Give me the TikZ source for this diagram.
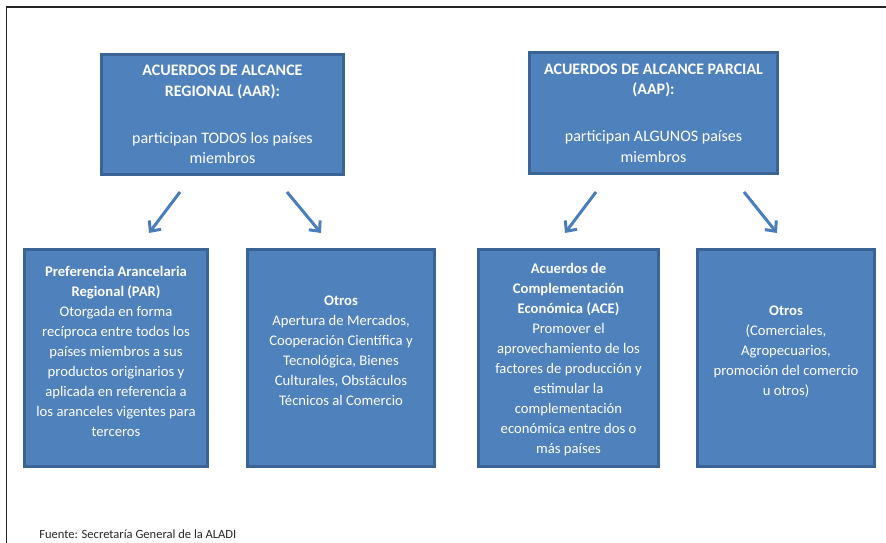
\documentclass[tikz,border=0pt]{standalone}
\usepackage{fontspec}
\setmainfont{Carlito}
\usetikzlibrary{arrows.meta}
\definecolor{boxblue}{HTML}{4F81BD}
\definecolor{boxedge}{HTML}{3B6496}
\definecolor{arrowblue}{HTML}{4A7EBB}
\tikzset{
  topbox/.style={draw=boxedge,fill=boxblue,line width=2.25pt,text=white,align=center,inner sep=0pt,font=\fontsize{11}{15}\selectfont},
  headbox/.style={topbox,font=\fontsize{12}{15.5}\selectfont},
  pointer/.style={arrowblue,line width=2.25pt,-{Straight Barb[length=6pt,width=11pt]}}
}
\newcommand{\lowtext}[3]{\parbox[c][163pt][t]{#1}{\centering\vspace*{#2}#3}}
\begin{document}
\begin{tikzpicture}[x=0.75pt,y=-0.75pt]
		\useasboundingbox (0,0) rectangle (886,543);
		\draw[black!85,line width=1pt] (6.5,543) -- (6.5,7) -- (886,7);
		\node[headbox,minimum width=181.5pt,minimum height=90pt] (aar) at (222.5,114.5)
		{\textbf{ACUERDOS DE ALCANCE}\\\textbf{REGIONAL (AAR):}\\[19.75pt]participan TODOS los países\\miembros};
		\node[headbox,minimum width=186pt,minimum height=90.75pt] (aap) at (653.5,113)
		{\textbf{ACUERDOS DE ALCANCE PARCIAL}\\\textbf{(AAP):}\\[19.75pt]participan ALGUNOS países\\miembros};
		\node[topbox] (par) at (116,358) {\lowtext{137.25pt}{12.5pt}{\textbf{Preferencia Arancelaria}\\\textbf{Regional (PAR)}\\Otorgada en forma\\recíproca entre todos los\\países miembros a sus\\productos originarios y\\aplicada en referencia a\\los aranceles vigentes para\\terceros}};
		\node[topbox] (otrosR) at (341,358) {\lowtext{140.25pt}{35pt}{\textbf{Otros}\\Apertura de Mercados,\\Cooperación Científica y\\Tecnológica, Bienes\\Culturales, Obstáculos\\Técnicos al Comercio}};
		\node[topbox] (ace) at (568.5,358) {\lowtext{135pt}{10.25pt}{\textbf{Acuerdos de}\\\textbf{Complementación}\\\textbf{Económica (ACE)}\\Promover el\\aprovechamiento de los\\factores de producción y\\estimular la\\complementación\\económica entre dos o\\más países}};
		\node[topbox] (otrosP) at (786,358) {\lowtext{132.75pt}{42.5pt}{\textbf{Otros}\\(Comerciales,\\Agropecuarios,\\promoción del comercio\\u otros)}};
		\foreach \n/\xa/\xb in {1/180/149,2/287/321,3/596/565,4/744/777}
		{\coordinate (from\n) at (\xa,192); \coordinate (to\n) at (\xb,233);
		\draw[pointer] (from\n) -- (to\n);}
		\node[anchor=west,inner sep=0pt,text=black!85,font=\fontsize{9.4}{11}\selectfont] (fuente) at (39,534) {Fuente: Secretaría General de la ALADI};
	   \end{tikzpicture}
\end{document}
